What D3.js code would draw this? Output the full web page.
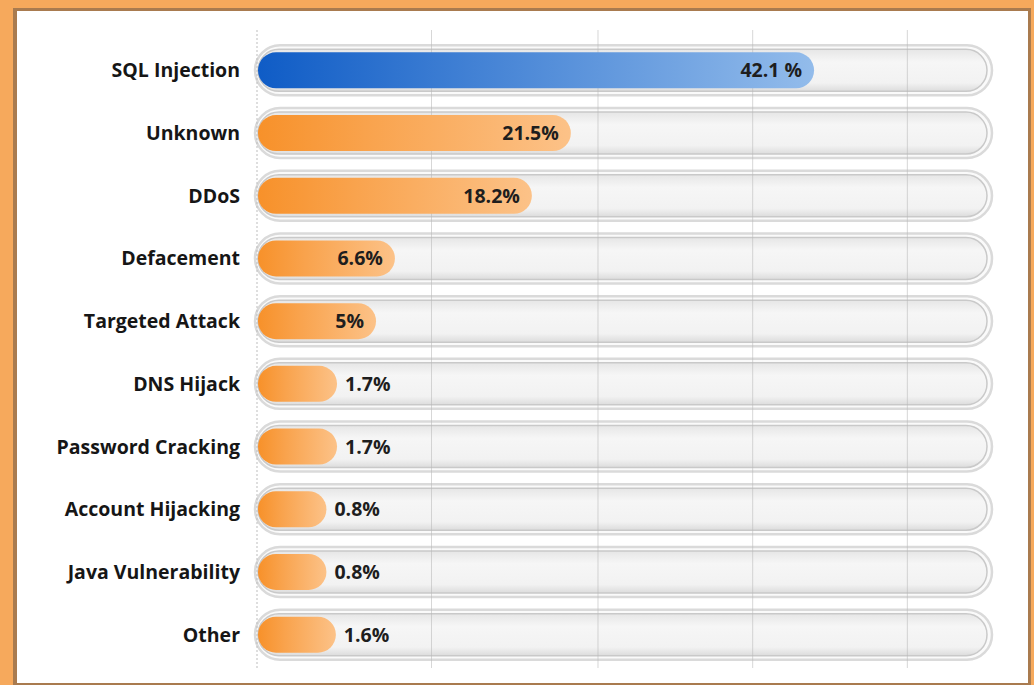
<!DOCTYPE html>
<html><head><meta charset="utf-8">
<script src="https://cdn.jsdelivr.net/npm/d3@7/dist/d3.min.js"></script>
<style>html,body{margin:0;padding:0;background:#fff;}svg{display:block;}</style>
</head><body>
<svg id="c" width="1034" height="685"></svg>
<script>
const categories = ["SQL Injection","Unknown","DDoS","Defacement","Targeted Attack","DNS Hijack","Password Cracking","Account Hijacking","Java Vulnerability","Other"];
const values = [42.1, 21.5, 18.2, 6.6, 5, 1.7, 1.7, 0.8, 0.8, 1.6];
const valueLabels = ["42.1 %","21.5%","18.2%","6.6%","5%","1.7%","1.7%","0.8%","0.8%","1.6%"];
const gridTicks = [9.7, 23.8, 36.9, 50];

const svg = d3.select("#c");
const W = 1034, H = 685;

// frame
svg.append("rect").attr("x",0).attr("y",0).attr("width",W).attr("height",H).attr("fill","#f6a95c");
svg.append("rect").attr("x",13).attr("y",8).attr("width",1018).attr("height",677).attr("fill","#a97b4f");
svg.append("rect").attr("x",17).attr("y",11).attr("width",1011).attr("height",672).attr("fill","#ffffff");

const x = d3.scaleLinear().domain([-5.08, 57]).range([257, 990]);
const y = d3.scaleBand().domain(categories).range([39, 666]).paddingInner(0.2).paddingOuter(0.1);

const defs = svg.append("defs");
const gb = defs.append("linearGradient").attr("id","gBlue").attr("x1","0%").attr("x2","100%");
gb.append("stop").attr("offset","0%").attr("stop-color","#0f5cc6");
gb.append("stop").attr("offset","100%").attr("stop-color","#93bceb");
const go = defs.append("linearGradient").attr("id","gOrange").attr("x1","0%").attr("x2","100%");
go.append("stop").attr("offset","0%").attr("stop-color","#f7912a");
go.append("stop").attr("offset","35%").attr("stop-color","#f9a34d");
go.append("stop").attr("offset","100%").attr("stop-color","#fcc288");
const gt = defs.append("linearGradient").attr("id","gTrack").attr("x1","0").attr("x2","0").attr("y1","0").attr("y2","1");
gt.append("stop").attr("offset","0%").attr("stop-color","#e6e6e6");
gt.append("stop").attr("offset","30%").attr("stop-color","#f6f6f6");
gt.append("stop").attr("offset","80%").attr("stop-color","#f2f2f2");
gt.append("stop").attr("offset","100%").attr("stop-color","#dcdcdc");

const cy = d => y(d) + y.bandwidth()/2;
const x0 = x.range()[0], x1 = x.range()[1];

// tracks
const trackH = 50, innerH = 42, barH = 36;
const rows = svg.append("g").selectAll("g").data(categories).join("g");
rows.append("rect")
  .attr("x", x0-2).attr("y", d => cy(d)-trackH/2)
  .attr("width", x1-x0+4).attr("height", trackH).attr("rx", trackH/2)
  .attr("fill","#fafafa").attr("stroke","#dadada").attr("stroke-width",2.5);
rows.append("rect")
  .attr("x", x0+1).attr("y", d => cy(d)-innerH/2)
  .attr("width", x1-x0-4).attr("height", innerH).attr("rx", innerH/2)
  .attr("fill","url(#gTrack)").attr("stroke","#c9c9c9").attr("stroke-width",1.5);

// grid
svg.append("g").selectAll("line").data(gridTicks).join("line")
  .attr("x1", d => x(d)).attr("x2", d => x(d))
  .attr("y1", 30).attr("y2", 668)
  .attr("stroke","#b8b8b8").attr("stroke-width",1).attr("opacity",0.55);
svg.append("line").attr("x1",x0).attr("x2",x0).attr("y1",30).attr("y2",668)
  .attr("stroke","#bdbdbd").attr("stroke-width",1).attr("stroke-dasharray","2,2");

// bars
svg.append("g").selectAll("rect").data(values).join("rect")
  .attr("x", x0+1)
  .attr("y", (d,i) => cy(categories[i]) - barH/2)
  .attr("width", d => x(d) - x0 - 1)
  .attr("height", barH).attr("rx", barH/2)
  .attr("fill", (d,i) => i===0 ? "url(#gBlue)" : "url(#gOrange)");

// value labels
svg.append("g").selectAll("text").data(values).join("text")
  .attr("x", d => d >= 5 ? x(d) - 12 : x(d) + 8)
  .attr("y", (d,i) => cy(categories[i]))
  .attr("dy","0.36em")
  .attr("text-anchor", d => d >= 5 ? "end" : "start")
  .attr("font-family","'Open Sans', sans-serif")
  .attr("font-weight",700).attr("font-size",19.5)
  .attr("fill","#1e1e1e")
  .text((d,i) => valueLabels[i]);

// category labels
svg.append("g").selectAll("text").data(categories).join("text")
  .attr("x", 240).attr("y", d => cy(d)).attr("dy","0.36em")
  .attr("text-anchor","end")
  .attr("font-family","'Open Sans', sans-serif")
  .attr("font-weight",700).attr("font-size",19.5)
  .attr("fill","#161616")
  .text(d => d);
</script>
</body></html>
